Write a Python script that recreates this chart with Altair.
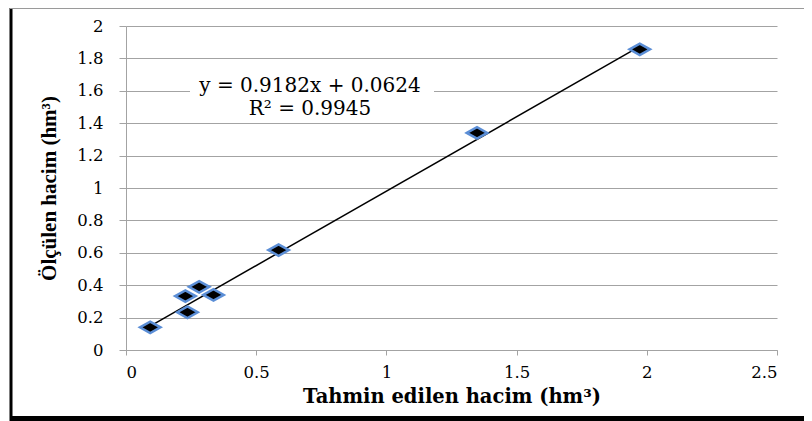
import altair as alt
import pandas as pd

# ---- data ----
predicted = [0.093, 0.228, 0.236, 0.281, 0.336, 0.586, 1.348, 1.973]
measured = [0.140, 0.333, 0.233, 0.390, 0.340, 0.617, 1.340, 1.856]
slope = 0.9182
intercept = 0.0624
equation_lines = ["y = 0.9182x + 0.0624", "R² = 0.9945"]
x_ticks = [0, 0.5, 1, 1.5, 2, 2.5]
y_ticks = [0, 0.2, 0.4, 0.6, 0.8, 1, 1.2, 1.4, 1.6, 1.8, 2]
x_title = "Tahmin edilen hacim (hm³)"
y_title = "Ölçülen hacim (hm³)"

W, H = 651, 324
GRID = "#A3A3A3"
SERIF = "DejaVu Serif"

pts = pd.DataFrame({"pred": predicted, "meas": measured})
xmin, xmax = min(predicted), max(predicted)
trend = pd.DataFrame({"pred": [xmin, xmax],
                      "meas": [slope * xmin + intercept, slope * xmax + intercept]})
dummy = alt.Data(values=[{}])

x_enc = alt.X(
    "pred:Q",
    scale=alt.Scale(domain=[0, 2.5], nice=False, zero=True),
    axis=alt.Axis(
        values=x_ticks, format="~g", grid=False, labelOverlap=False,
        domainColor=GRID, tickColor=GRID, tickSize=5,
        labelFont=SERIF, labelFontSize=16.5, labelColor="black", labelPadding=9,
        title=x_title, titleFont=SERIF, titleFontSize=19.5, titleFontWeight="bold",
        titleColor="black", titleX=W / 2, titleY=46, titleBaseline="middle",
        titleAlign="center",
    ),
)
y_enc = alt.Y(
    "meas:Q",
    scale=alt.Scale(domain=[0, 2], nice=False, zero=True),
    axis=alt.Axis(
        values=y_ticks, format="~g", grid=True, gridColor=GRID, gridWidth=1,
        labelOverlap=False, tickCount=11,
        domainColor=GRID, tickColor=GRID, tickSize=7,
        labelFont=SERIF, labelFontSize=16.5, labelColor="black", labelPadding=16,
        title=y_title, titleFont="Liberation Serif", titleFontSize=21,
        titleFontWeight="bold", titleColor="black", titleAngle=-90,
        titleX=-77, titleY=H / 2, titleBaseline="middle", titleAlign="center",
    ),
)

points = alt.Chart(pts).mark_point(
    shape="M-1,0L0,-0.56L1,0L0,0.56Z", size=420, filled=True,
    fill="black", stroke="#5B8ED6", strokeWidth=2.5, opacity=1,
).encode(x=x_enc, y=y_enc)

line = alt.Chart(trend).mark_line(color="black", strokeWidth=1.5).encode(
    x="pred:Q", y="meas:Q"
)

label_bg = alt.Chart(dummy).mark_rect(color="white").encode(
    x=alt.value(64), x2=alt.value(308), y=alt.value(48), y2=alt.value(94)
)

eq1 = alt.Chart(dummy).mark_text(
    text=equation_lines[0], font=SERIF, fontSize=20, color="black",
    align="center", baseline="middle",
).encode(x=alt.value(184), y=alt.value(60))
eq2 = alt.Chart(dummy).mark_text(
    text=equation_lines[1], font=SERIF, fontSize=20, color="black",
    align="center", baseline="middle",
).encode(x=alt.value(184), y=alt.value(83))

frame_left = alt.Chart(dummy).mark_rule(color="black", strokeWidth=3).encode(
    x=alt.value(-115), y=alt.value(-18), y2=alt.value(395)
)
frame_bottom = alt.Chart(dummy).mark_rule(color="black", strokeWidth=5).encode(
    x=alt.value(-116), x2=alt.value(678), y=alt.value(392.5)
)
frame_top = alt.Chart(dummy).mark_rule(color="#9A9A9A", strokeWidth=1).encode(
    x=alt.value(-116), x2=alt.value(678), y=alt.value(-17.5)
)

chart = alt.layer(
    label_bg, line, points, eq1, eq2, frame_left, frame_bottom, frame_top
).properties(
    width=W, height=H,
    autosize=alt.AutoSizeParams(type="none"),
    padding={"left": 118, "top": 18, "right": 27, "bottom": 71},
).configure_view(stroke=None)

chart.save("out.html", embed_options={"renderer": "svg", "actions": False})
